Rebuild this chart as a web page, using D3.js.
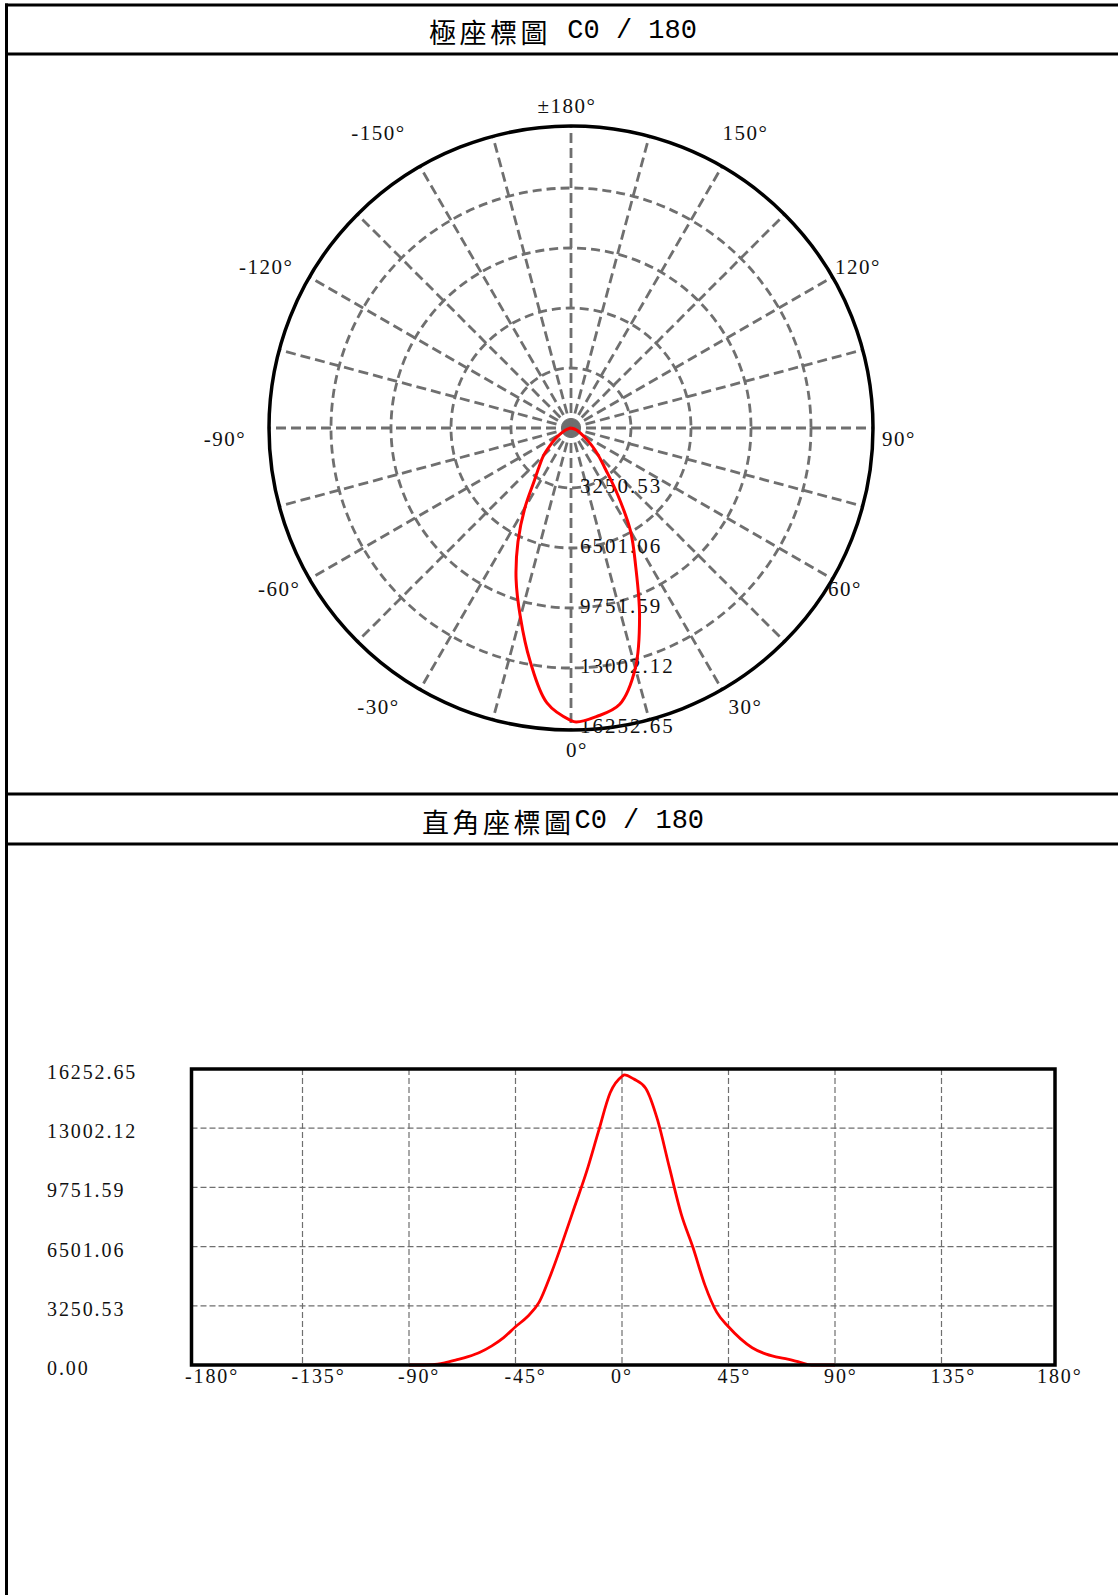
<!DOCTYPE html>
<html><head><meta charset="utf-8">
<script src="https://cdn.jsdelivr.net/npm/d3@7"></script>
<style>html,body{margin:0;padding:0;background:#fff;} svg{display:block}</style>
</head><body>
<svg id="c" width="1118" height="1595"></svg>
<script>
// ---- data ----
const angles = [-90,-85,-80,-75,-70,-65,-60,-55,-50,-45,-40,-35,-30,-25,-20,-15,-10,-5,0,1,5,10,15,20,25,30,35,40,45,50,55,60,65,70,75,80,85,90];
const intensity = [0,0,20,120,280,460,700,1050,1500,2100,2650,3450,5000,6800,8700,10600,12800,14950,15850,15930,15700,15200,13470,10860,8300,6450,4400,2900,2100,1450,950,640,450,320,160,0,0,0];
const maxValue = 16252.65;
const ringValues = [3250.53,6501.06,9751.59,13002.12,16252.65];
const ringLabels = ["3250.53","6501.06","9751.59","13002.12","16252.65"];
const yTickValues = [0,3250.53,6501.06,9751.59,13002.12,16252.65];
const yTickLabels = ["0.00","3250.53","6501.06","9751.59","13002.12","16252.65"];
const xTickValues = [-180,-135,-90,-45,0,45,90,135,180];
const xTickLabels = ["-180°","-135°","-90°","-45°","0°","45°","90°","135°","180°"];
const polarLabelAngles = [180,150,120,90,60,30,0,-30,-60,-90,-120,-150];
const polarLabelTexts = ["±180°","150°","120°","90°","60°","30°","0°","-30°","-60°","-90°","-120°","-150°"];
const spokeAngles = d3.range(0,360,15);
const title1Cjk = "極座標圖", title1Latin = " C0 / 180";
const title2Cjk = "直角座標圖", title2Latin = "C0 / 180";

const data = angles.map((a,i)=>({a, v: intensity[i]}));
const svg = d3.select("#c");
const GRID = "#6f6f6f";
const SERIF = "'Liberation Serif','Times New Roman',serif";

// ---- frame ----
const frame = svg.append("g").attr("stroke","#000").attr("stroke-width",3);
frame.append("line").attr("x1",5).attr("x2",1118).attr("y1",5).attr("y2",5);
frame.append("line").attr("x1",6.5).attr("x2",6.5).attr("y1",3.5).attr("y2",1595);
[54,794,844].forEach(y=>frame.append("line").attr("x1",5).attr("x2",1118).attr("y1",y).attr("y2",y));

function title(y, cjk, latin){
  const t = svg.append("text").attr("x",563).attr("y",y).attr("text-anchor","middle")
    .attr("dominant-baseline","central").attr("fill","#000");
  t.append("tspan").attr("font-family","'Noto Sans CJK TC','Noto Sans CJK SC',sans-serif")
    .attr("font-size",27).attr("letter-spacing",3.5).text(cjk);
  t.append("tspan").attr("font-family","'Liberation Mono','DejaVu Sans Mono',monospace")
    .attr("font-size",27).text(latin);
}
title(31, title1Cjk, title1Latin);
title(821, title2Cjk, title2Latin);

// ---- polar chart ----
const cx = 571, cy = 428, R = 302;
const r = d3.scaleLinear().domain([0,maxValue]).range([0,300]);
const pg = svg.append("g").attr("transform",`translate(${cx},${cy})`);
const rad = d => d*Math.PI/180;

// spokes
pg.selectAll("line.spoke").data(spokeAngles).join("line").attr("class","spoke")
  .attr("x1",0).attr("y1",0)
  .attr("x2",d=>R*Math.sin(rad(d))).attr("y2",d=>R*Math.cos(rad(d)))
  .attr("stroke",GRID).attr("stroke-width",2.8).attr("stroke-dasharray","10,5");
// rings
pg.selectAll("circle.ring").data(ringValues.slice(0,4)).join("circle").attr("class","ring")
  .attr("r",d=>r(d)).attr("fill","none")
  .attr("stroke",GRID).attr("stroke-width",2.8).attr("stroke-dasharray","9,5");
// outer circle
pg.append("circle").attr("r",R).attr("fill","none").attr("stroke","#000").attr("stroke-width",3.5);

// ring labels
pg.selectAll("text.ringlab").data(ringValues).join("text").attr("class","ringlab")
  .attr("x",9).attr("y",d=>r(d)-2).attr("dominant-baseline","central")
  .attr("font-family",SERIF).attr("font-size",21).attr("letter-spacing",2).attr("fill","#111")
  .text((d,i)=>ringLabels[i]);

// angle labels
polarLabelAngles.forEach((a,i)=>{
  const s = Math.sin(rad(a)), c = Math.cos(rad(a));
  let x, y = 322*c;
  if (Math.abs(s) < 0.1) x = 1 + 5*c;
  else {
    const m = 30 + 307*Math.abs(s) - (c > 0.3 && Math.abs(s) > 0.7 ? 13 : 0);
    x = Math.sign(s)*m - 9;
  }
  if (Math.abs(c) < 0.1) y += 11;
  if (c < -0.7 && Math.abs(s) > 0.1) y -= 16;
  pg.append("text").attr("x",x).attr("y",y).attr("text-anchor","middle")
    .attr("dominant-baseline","central").attr("font-family",SERIF).attr("font-size",21)
    .attr("letter-spacing",1.5).attr("fill","#111").text(polarLabelTexts[i]);
});

// polar curve
const radial = d3.lineRadial().angle(d=>Math.PI - rad(d.a)).radius(d=>r(d.v))
  .curve(d3.curveCatmullRom.alpha(0.5));
pg.append("path").datum(data).attr("d",radial).attr("fill","none")
  .attr("stroke","#ff0000").attr("stroke-width",3).attr("stroke-linejoin","round");

// ---- cartesian chart ----
const x = d3.scaleLinear().domain([-180,180]).range([196,1048]);
const y = d3.scaleLinear().domain([0,maxValue]).range([1365,1069]);
const boxL = 191.5, boxR = 1055, boxT = 1069, boxB = 1365;
const cg = svg.append("g");
cg.selectAll("line.hg").data(yTickValues.slice(1,5)).join("line").attr("class","hg")
  .attr("x1",boxL).attr("x2",boxR).attr("y1",d=>y(d)).attr("y2",d=>y(d))
  .attr("stroke",GRID).attr("stroke-width",1.2).attr("stroke-dasharray","6,3");
cg.selectAll("line.vg").data(xTickValues.slice(1,8)).join("line").attr("class","vg")
  .attr("x1",d=>x(d)).attr("x2",d=>x(d)).attr("y1",boxT).attr("y2",boxB)
  .attr("stroke",GRID).attr("stroke-width",1.2).attr("stroke-dasharray","6,3");

const line = d3.line().x(d=>x(d.a)).y(d=>y(d.v)).curve(d3.curveMonotoneX);
cg.append("path").datum(data).attr("d",line).attr("fill","none")
  .attr("stroke","#ff0000").attr("stroke-width",2.8).attr("stroke-linejoin","round");

cg.append("rect").attr("x",boxL).attr("y",boxT).attr("width",boxR-boxL).attr("height",boxB-boxT)
  .attr("fill","none").attr("stroke","#000").attr("stroke-width",3.5);

cg.selectAll("text.yl").data(yTickValues).join("text").attr("class","yl")
  .attr("x",47).attr("y",d=>y(d)+3).attr("dominant-baseline","central")
  .attr("font-family",SERIF).attr("font-size",20).attr("letter-spacing",1.9).attr("fill","#111")
  .text((d,i)=>yTickLabels[i]);
cg.selectAll("text.xl").data(xTickValues).join("text").attr("class","xl")
  .attr("x",d=>x(d)-11).attr("y",boxB+11).attr("dominant-baseline","central")
  .attr("font-family",SERIF).attr("font-size",20).attr("letter-spacing",1.9).attr("fill","#111")
  .text((d,i)=>xTickLabels[i]);
</script>
</body></html>
